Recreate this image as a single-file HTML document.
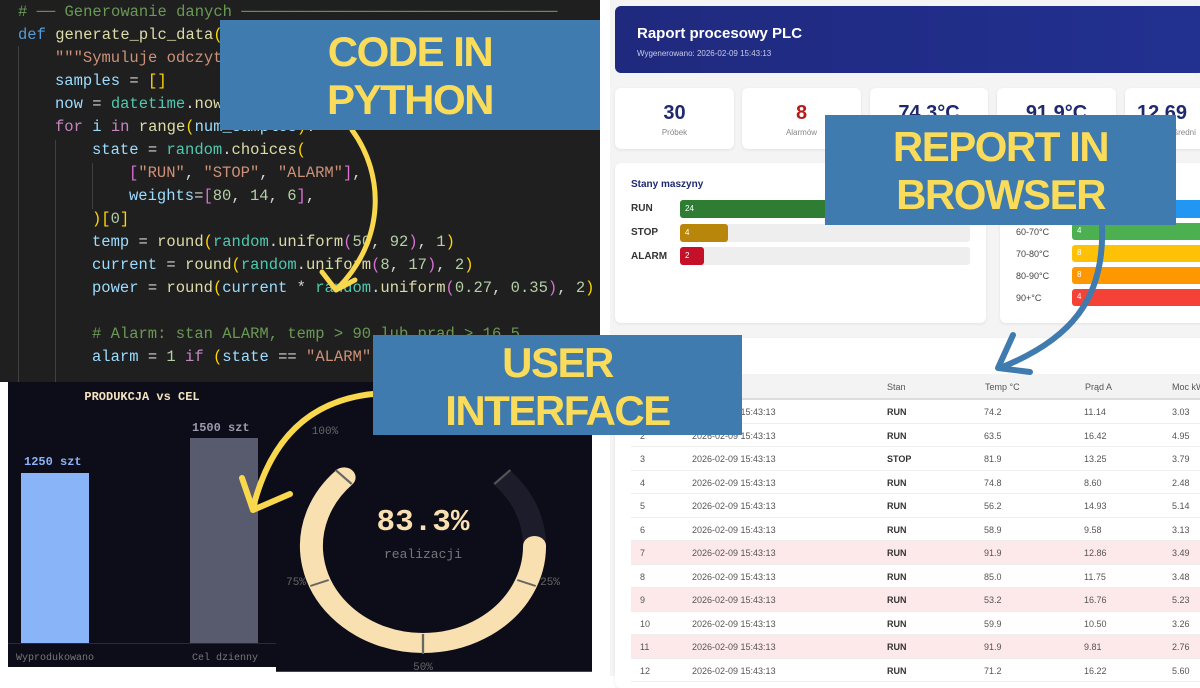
<!DOCTYPE html>
<html><head><meta charset="utf-8"><style>
*{margin:0;padding:0;box-sizing:border-box}
body{width:1200px;height:676px;position:relative;overflow:hidden;background:#fff;font-family:"Liberation Sans",sans-serif}
.a{position:absolute}
#code{left:8px;top:0;width:600px;height:382px;background:#1f1f1f;overflow:hidden}
.ln{position:absolute;font-family:"Liberation Mono",monospace;font-size:15.5px;white-space:pre;line-height:20px;color:#d4d4d4}
.c{color:#6a9955}.k{color:#569cd6}.p{color:#c586c0}.v{color:#9cdcfe}.f{color:#dcdcaa}.s{color:#ce9178}.n{color:#b5cea8}.t{color:#4ec9b0}.y{color:#ffd700}.m{color:#da70d6}.b{color:#179fff}
.box{position:absolute;background:#3f7bae;color:#fadc5a;font-family:"Liberation Sans",sans-serif;font-weight:bold;text-align:center;font-size:42px;line-height:48px;letter-spacing:-1.5px}
.card{position:absolute;background:#fff;border-radius:6px;box-shadow:0 1px 3px rgba(0,0,0,.08)}
.kv{position:absolute;width:100%;text-align:center;top:14px;font-size:20px;font-weight:bold;color:#1f2a6e}
.kl{position:absolute;width:100%;text-align:center;top:40px;font-size:8px;color:#888}
.row{position:absolute;left:0;width:585px;height:23.5px;border-bottom:1px solid #eee;font-size:9px;color:#555}
.row span{position:absolute;top:7px}
.mono{font-family:"Liberation Mono",monospace}
</style></head><body>
<div id="code">
<div class="ln" style="left:18px;top:2px"><span class="c"># ── Generowanie danych ──────────────────────────────────</span></div>
<div class="ln" style="left:18px;top:25px"><span class="k">def</span> <span class="f">generate_plc_data</span><span class="y">(</span><span class="v">num_samples</span><span class="y">)</span>:</div>
<div class="ln" style="left:55px;top:48px"><span class="s">"""Symuluje odczyty z PLC."""</span></div>
<div class="ln" style="left:55px;top:71px"><span class="v">samples</span> = <span class="y">[]</span></div>
<div class="ln" style="left:55px;top:94px"><span class="v">now</span> = <span class="t">datetime</span>.<span class="f">now</span><span class="y">()</span></div>
<div class="ln" style="left:55px;top:117px"><span class="p">for</span> <span class="v">i</span> <span class="p">in</span> <span class="f">range</span><span class="y">(</span><span class="v">num_samples</span><span class="y">)</span>:</div>
<div class="ln" style="left:92px;top:140px"><span class="v">state</span> = <span class="t">random</span>.<span class="f">choices</span><span class="y">(</span></div>
<div class="ln" style="left:129px;top:163px"><span class="m">[</span><span class="s">"RUN"</span>, <span class="s">"STOP"</span>, <span class="s">"ALARM"</span><span class="m">]</span>,</div>
<div class="ln" style="left:129px;top:186px"><span class="v">weights</span>=<span class="m">[</span><span class="n">80</span>, <span class="n">14</span>, <span class="n">6</span><span class="m">]</span>,</div>
<div class="ln" style="left:92px;top:209px"><span class="y">)[</span><span class="n">0</span><span class="y">]</span></div>
<div class="ln" style="left:92px;top:232px"><span class="v">temp</span> = <span class="f">round</span><span class="y">(</span><span class="t">random</span>.<span class="f">uniform</span><span class="m">(</span><span class="n">50</span>, <span class="n">92</span><span class="m">)</span>, <span class="n">1</span><span class="y">)</span></div>
<div class="ln" style="left:92px;top:255px"><span class="v">current</span> = <span class="f">round</span><span class="y">(</span><span class="t">random</span>.<span class="f">uniform</span><span class="m">(</span><span class="n">8</span>, <span class="n">17</span><span class="m">)</span>, <span class="n">2</span><span class="y">)</span></div>
<div class="ln" style="left:92px;top:278px"><span class="v">power</span> = <span class="f">round</span><span class="y">(</span><span class="v">current</span> * <span class="t">random</span>.<span class="f">uniform</span><span class="m">(</span><span class="n">0.27</span>, <span class="n">0.35</span><span class="m">)</span>, <span class="n">2</span><span class="y">)</span></div>
<div class="ln" style="left:92px;top:324px"><span class="c"># Alarm: stan ALARM, temp &gt; 90 lub prąd &gt; 16.5</span></div>
<div class="ln" style="left:92px;top:347px"><span class="v">alarm</span> = <span class="n">1</span> <span class="p">if</span> <span class="y">(</span><span class="v">state</span> == <span class="s">"ALARM"</span> <span class="p">or</span> <span class="v">temp</span> &gt; <span class="n">90</span><span class="y">)</span></div>
<div class="a" style="left:18px;top:46px;width:1px;height:336px;background:#404040"></div>
<div class="a" style="left:55px;top:140px;width:1px;height:242px;background:#404040"></div>
<div class="a" style="left:92px;top:163px;width:1px;height:46px;background:#404040"></div>
</div>

<!-- bar chart -->
<div class="a" style="left:8px;top:382px;width:268px;height:285px;background:#0d0d1a">
<div class="a mono" style="left:0;width:268px;top:8px;text-align:center;font-size:12px;font-weight:bold;color:#f3e3bf">PRODUKCJA vs CEL</div>
<div class="a mono" style="left:16px;top:73px;font-size:12px;font-weight:bold;color:#8ab4f8">1250 szt</div>
<div class="a" style="left:13px;top:91px;width:68px;height:170px;background:#8ab4f8"></div>
<div class="a mono" style="left:184px;top:39px;font-size:12px;font-weight:bold;color:#9a9cae">1500 szt</div>
<div class="a" style="left:182px;top:56px;width:68px;height:205px;background:#585a6e"></div>
<div class="a" style="left:0;top:261px;width:268px;height:1px;background:#2a2a3a"></div>
<div class="a mono" style="left:8px;top:271px;font-size:10px;color:#777"><span>Wyprodukowano</span></div>
<div class="a mono" style="left:184px;top:271px;font-size:10px;color:#777">Cel dzienny</div>
</div>

<!-- gauge -->
<div class="a" style="left:276px;top:382px;width:316px;height:290px;background:#0d0d1a;border-bottom:1px solid #444"></div>
<svg class="a" style="left:0;top:0" width="1200" height="676">
<g transform="translate(423,546) scale(1.15,1)">
<path d="M 68.6 -68.6 A 97 97 0 0 1 97 0" fill="none" stroke="#1c1c2a" stroke-width="20"/>
<path d="M 97 0 A 97 97 0 1 1 -68.6 -68.6" fill="none" stroke="#f8e0b0" stroke-width="20" stroke-linecap="round"/>
<line x1="-62" y1="-62" x2="-76" y2="-76" stroke="#666" stroke-width="2"/>
<line x1="62" y1="-62" x2="76" y2="-76" stroke="#555" stroke-width="2"/>
<line x1="-82" y1="34" x2="-98" y2="40" stroke="#666" stroke-width="2"/>
<line x1="82" y1="34" x2="98" y2="40" stroke="#666" stroke-width="2"/>
<line x1="0" y1="88" x2="0" y2="108" stroke="#666" stroke-width="2"/>
</g>
<text x="325" y="434" font-family="Liberation Mono" font-size="11" fill="#666" text-anchor="middle">100%</text>
<text x="296" y="585" font-family="Liberation Mono" font-size="11" fill="#666" text-anchor="middle">75%</text>
<text x="550" y="585" font-family="Liberation Mono" font-size="11" fill="#666" text-anchor="middle">25%</text>
<text x="423" y="670" font-family="Liberation Mono" font-size="11" fill="#666" text-anchor="middle">50%</text>
<text x="423" y="530" font-family="Liberation Mono" font-size="31" font-weight="bold" fill="#f8e0b0" text-anchor="middle">83.3%</text>
<text x="423" y="558" font-family="Liberation Mono" font-size="13" fill="#777" text-anchor="middle">realizacji</text>
</svg>

<!-- report -->
<div class="a" style="left:610px;top:0;width:590px;height:676px;background:#f4f4f4">
<div class="a" style="left:5px;top:6px;width:590px;height:67px;border-radius:6px;background:linear-gradient(90deg,#1f2a7e,#223090)">
<div class="a" style="left:22px;top:19px;color:#fff;font-size:15px;font-weight:bold">Raport procesowy PLC</div>
<div class="a" style="left:22px;top:43px;color:#c8cbe8;font-size:8px">Wygenerowano: 2026-02-09 15:43:13</div>
</div>
<div class="card" style="left:5px;top:88px;width:119px;height:61px"><div class="kv">30</div><div class="kl">Próbek</div></div>
<div class="card" style="left:132px;top:88px;width:119px;height:61px"><div class="kv" style="color:#b71c1c">8</div><div class="kl">Alarmów</div></div>
<div class="card" style="left:260px;top:88px;width:118px;height:61px"><div class="kv">74.3°C</div><div class="kl">Śr. temp</div></div>
<div class="card" style="left:387px;top:88px;width:119px;height:61px"><div class="kv">91.9°C</div><div class="kl">Max temp</div></div>
<div class="card" style="left:515px;top:88px;width:119px;height:61px"><div class="kv" style="text-align:left;left:12px">12.69</div><div class="kl" style="text-align:left;left:30px">Prąd średni</div></div>

<div class="card" style="left:5px;top:163px;width:371px;height:160px">
<div class="a" style="left:16px;top:16px;font-size:10px;font-weight:bold;color:#1f2a6e">Stany maszyny</div>
<div class="a" style="left:16px;top:40px;font-size:10px;font-weight:bold;color:#333">RUN</div>
<div class="a" style="left:16px;top:64px;font-size:10px;font-weight:bold;color:#333">STOP</div>
<div class="a" style="left:16px;top:88px;font-size:10px;font-weight:bold;color:#333">ALARM</div>
<div class="a" style="left:65px;top:37px;width:290px;height:18px;background:#eee;border-radius:3px"></div>
<div class="a" style="left:65px;top:61px;width:290px;height:18px;background:#eee;border-radius:3px"></div>
<div class="a" style="left:65px;top:84px;width:290px;height:18px;background:#eee;border-radius:3px"></div>
<div class="a" style="left:65px;top:37px;width:232px;height:18px;background:#2e7d32;border-radius:3px;color:#fff;font-size:8px;padding:4px 5px">24</div>
<div class="a" style="left:65px;top:61px;width:48px;height:18px;background:#b8860b;border-radius:3px;color:#fff;font-size:8px;padding:4px 5px">4</div>
<div class="a" style="left:65px;top:84px;width:24px;height:18px;background:#c5102a;border-radius:3px;color:#fff;font-size:8px;padding:4px 5px">2</div>
</div>

<div class="card" style="left:390px;top:163px;width:210px;height:160px">
<div class="a" style="left:72px;top:37px;width:140px;height:18px;background:#2196f3;border-radius:3px"></div>
<div class="a" style="left:16px;top:64px;font-size:9px;color:#444">60-70°C</div>
<div class="a" style="left:16px;top:86px;font-size:9px;color:#444">70-80°C</div>
<div class="a" style="left:16px;top:108px;font-size:9px;color:#444">80-90°C</div>
<div class="a" style="left:16px;top:130px;font-size:9px;color:#444">90+°C</div>
<div class="a" style="left:72px;top:60px;width:140px;height:17px;background:#4caf50;border-radius:3px;color:#fff;font-size:8px;padding:3px 5px">4</div>
<div class="a" style="left:72px;top:82px;width:140px;height:17px;background:#ffc107;border-radius:3px;color:#fff;font-size:8px;padding:3px 5px">8</div>
<div class="a" style="left:72px;top:104px;width:140px;height:17px;background:#ff9800;border-radius:3px;color:#fff;font-size:8px;padding:3px 5px">8</div>
<div class="a" style="left:72px;top:126px;width:140px;height:17px;background:#f44336;border-radius:3px;color:#fff;font-size:8px;padding:3px 5px">4</div>
</div>

<div class="card" style="left:5px;top:338px;width:600px;height:350px">
<div class="a" style="left:16px;top:14px;font-size:10px;font-weight:bold;color:#1f2a6e">Ostatnie odczyty (30)</div>
<div class="a" style="left:16px;top:36px;width:585px;height:26px;background:#f3f3f3;border-bottom:2px solid #ddd;font-size:9px;color:#555">
<span class="a" style="left:5px;top:8px">#</span><span class="a" style="left:60px;top:8px">Czas</span><span class="a" style="left:256px;top:8px">Stan</span><span class="a" style="left:354px;top:8px">Temp °C</span><span class="a" style="left:454px;top:8px">Prąd A</span><span class="a" style="left:541px;top:8px">Moc kW</span></div>
<div class="a" id="rows" style="left:16px;top:62px">
</div>
</div>
</div>
<script>
var d=[["1","RUN","74.2","11.14","3.03"],["2","RUN","63.5","16.42","4.95"],["3","STOP","81.9","13.25","3.79"],["4","RUN","74.8","8.60","2.48"],["5","RUN","56.2","14.93","5.14"],["6","RUN","58.9","9.58","3.13"],["7","RUN","91.9","12.86","3.49",1],["8","RUN","85.0","11.75","3.48"],["9","RUN","53.2","16.76","5.23",1],["10","RUN","59.9","10.50","3.26"],["11","RUN","91.9","9.81","2.76",1],["12","RUN","71.2","16.22","5.60"]];
var h="";d.forEach(function(r,i){h+='<div class="row" style="top:'+(i*23.5)+'px;'+(r[5]?'background:#fde8ea':'')+'"><span style="left:9px">'+r[0]+'</span><span style="left:61px">2026-02-09 15:43:13</span><span style="left:256px;font-weight:bold;color:#333">'+r[1]+'</span><span style="left:353px">'+r[2]+'</span><span style="left:453px">'+r[3]+'</span><span style="left:541px">'+r[4]+'</span></div>'});
document.getElementById("rows").innerHTML=h;
</script>

<!-- arrows -->
<svg class="a" style="left:0;top:0" width="1200" height="676">
<path d="M 352 130 C 385 175 385 240 338 288" fill="none" stroke="#f9d84e" stroke-width="5" stroke-linecap="round"/>
<path d="M 322 272 L 336 290 L 355 280" fill="none" stroke="#f9d84e" stroke-width="5" stroke-linecap="round" stroke-linejoin="round"/>
<path d="M 388 393 C 310 395 270 440 253 508" fill="none" stroke="#f9d84e" stroke-width="6" stroke-linecap="round"/>
<path d="M 242 478 L 253 510 L 290 494" fill="none" stroke="#f9d84e" stroke-width="6" stroke-linecap="round" stroke-linejoin="round"/>
<path d="M 1102 225 C 1105 300 1070 340 1000 368" fill="none" stroke="#3f7bae" stroke-width="6" stroke-linecap="round"/>
<path d="M 1013 335 L 998 368 L 1030 372" fill="none" stroke="#3f7bae" stroke-width="6" stroke-linecap="round" stroke-linejoin="round"/>
</svg>

<div class="box" style="left:220px;top:20px;width:380px;height:110px;padding-top:8px">CODE IN<br>PYTHON</div>
<div class="box" style="left:825px;top:115px;width:351px;height:110px;padding-top:8px">REPORT IN<br>BROWSER</div>
<div class="box" style="left:373px;top:335px;width:369px;height:100px;padding-top:4px">USER<br>INTERFACE</div>
</body></html>
